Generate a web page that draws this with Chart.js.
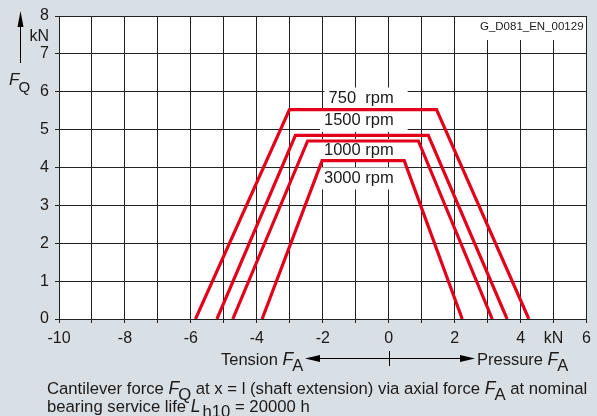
<!DOCTYPE html>
<html>
<head>
<meta charset="utf-8">
<script src="https://cdn.jsdelivr.net/npm/chart.js@4/dist/chart.umd.min.js"></script>
<style>
html,body{margin:0;padding:0;background:#d8dfe5;}
#wrap{width:597px;height:416px;position:relative;}
</style>
</head>
<body>
<div id="wrap"><canvas id="c" width="597" height="416"></canvas></div>
<script>
// ---- data ----
const seriesNames = ['750  rpm', '1500 rpm', '1000 rpm', '3000 rpm'];
const fa750  = [-5.86, -3.01, 1.45, 4.25];
const fq750  = [0, 5.53, 5.53, 0];
const fa1500 = [-5.21, -2.83, 1.20, 3.59];
const fq1500 = [0, 4.85, 4.85, 0];
const fa1000 = [-4.73, -2.46, 0.90, 3.14];
const fq1000 = [0, 4.70, 4.70, 0];
const fa3000 = [-3.84, -2.02, 0.47, 2.23];
const fq3000 = [0, 4.18, 4.18, 0];
const xLabelValues = [-10, -8, -6, -4, -2, 0, 2, 4, 6];
const yLabelValues = [0, 1, 2, 3, 4, 5, 6, 7, 8];
const unitLabel = 'kN';
const docId = 'G_D081_EN_00129';

const FONT = '"Liberation Sans", Arial, sans-serif';
const RED = '#e2001a';
const TXT = '#1a1a1a';

function pts(xs, ys){ return xs.map((x,i)=>({x:x, y:ys[i]})); }
const seriesX = [fa750, fa1500, fa1000, fa3000];
const seriesY = [fq750, fq1500, fq1000, fq3000];

// label anchor (right edge, vertical centre) in data units
const labelAnchors = [[0.15, 5.82],[0.15, 5.23],[0.15, 4.46],[0.15, 3.71]];

function drawRich(ctx, x, y, parts, base){
  let cx = x;
  base = base || 16;
  parts.forEach(p=>{
    ctx.font = (p.i ? 'italic ' : '') + (p.s || base) + 'px ' + FONT;
    ctx.fillText(p.t, cx, y + (p.dy || 0));
    cx += ctx.measureText(p.t).width + (p.gap || 0);
  });
  return cx;
}

const boxesPlugin = {
  id: 'boxes',
  beforeDatasetsDraw(chart){
    const ctx = chart.ctx, xs = chart.scales.x, ys = chart.scales.y;
    ctx.save();
    ctx.font = '16.5px ' + FONT;
    ctx.fillStyle = '#ffffff';
    seriesNames.forEach((n,i)=>{
      const r = xs.getPixelForValue(labelAnchors[i][0]);
      const cy = ys.getPixelForValue(labelAnchors[i][1]);
      const w = ctx.measureText(n).width;
      ctx.fillRect(r - w - 4, cy - 11, w + 18, 22);
    });
    // document id box
    ctx.fillRect(470, chart.chartArea.top + 1, chart.chartArea.right - 471, 23);
    ctx.restore();
  },
  afterDatasetsDraw(chart){
    const ctx = chart.ctx, xs = chart.scales.x, ys = chart.scales.y;
    ctx.save();
    ctx.fillStyle = TXT;
    ctx.font = '16.5px ' + FONT;
    ctx.textAlign = 'right';
    ctx.textBaseline = 'middle';
    seriesNames.forEach((n,i)=>{
      ctx.fillText(n, xs.getPixelForValue(labelAnchors[i][0]), ys.getPixelForValue(labelAnchors[i][1]));
    });
    ctx.font = '11.5px ' + FONT;
    ctx.fillText(docId, chart.chartArea.right - 3, 27);
    ctx.restore();
  },
  afterDraw(chart){
    const ctx = chart.ctx;
    ctx.save();
    ctx.fillStyle = '#000';
    ctx.strokeStyle = '#000';
    ctx.lineWidth = 1;
    // vertical axis arrow
    ctx.beginPath(); ctx.moveTo(20.5, 63); ctx.lineTo(20.5, 22); ctx.stroke();
    ctx.beginPath(); ctx.moveTo(20.5, 11); ctx.lineTo(17.5, 27); ctx.lineTo(23.5, 27); ctx.closePath(); ctx.fill();
    // horizontal arrow
    const x0 = chart.scales.x.getPixelForValue(0);
    ctx.beginPath(); ctx.moveTo(314, 358.5); ctx.lineTo(466, 358.5); ctx.stroke();
    ctx.beginPath(); ctx.moveTo(305, 358.5); ctx.lineTo(320, 355); ctx.lineTo(320, 362); ctx.closePath(); ctx.fill();
    ctx.beginPath(); ctx.moveTo(475, 358.5); ctx.lineTo(460, 355); ctx.lineTo(460, 362); ctx.closePath(); ctx.fill();
    ctx.beginPath(); ctx.moveTo(Math.round(x0)+0.5, 351); ctx.lineTo(Math.round(x0)+0.5, 366); ctx.stroke();

    ctx.fillStyle = TXT;
    ctx.textBaseline = 'alphabetic';
    ctx.textAlign = 'left';
    // F_Q on y axis
    drawRich(ctx, 9, 85, [{t:'F', i:true, s:17, gap:-1},{t:'Q', s:15, dy:7}]);
    // Tension / Pressure
    drawRich(ctx, 221, 365, [{t:'Tension '},{t:'F', i:true, s:17.5, gap:-1},{t:'A', dy:6}], 16.5);
    drawRich(ctx, 477, 365, [{t:'Pressure '},{t:'F', i:true, s:17.5, gap:-1},{t:'A', dy:6}], 16.5);
    // caption
    drawRich(ctx, 47, 394, [
      {t:'Cantilever force '},{t:'F', i:true, s:17.5, gap:-1},{t:'Q', dy:6},
      {t:' at x = l (shaft extension) via axial force '},{t:'F', i:true, s:17.5, gap:-1},{t:'A', dy:6},
      {t:' at nominal'}
    ], 16.7);
    drawRich(ctx, 47, 412, [
      {t:'bearing service life '},{t:'L', i:true, s:17.5, gap:2},{t:'h10', dy:5},
      {t:' = 20000 h'}
    ], 16.7);
    ctx.restore();
  }
};

const plotBg = {
  id: 'plotBg',
  beforeDraw(chart){
    const {ctx, chartArea:a} = chart;
    ctx.save();
    ctx.fillStyle = '#ffffff';
    ctx.fillRect(a.left, a.top, a.right - a.left, a.bottom - a.top);
    ctx.restore();
  }
};

const datasets = seriesNames.map((n,i)=>({
  label: n,
  data: pts(seriesX[i], seriesY[i]),
  showLine: true,
  borderColor: RED,
  backgroundColor: RED,
  borderWidth: 3.2,
  pointRadius: 0,
  borderJoinStyle: 'miter',
  tension: 0,
  fill: false
}));

new Chart(document.getElementById('c'), {
  type: 'scatter',
  data: { datasets },
  plugins: [plotBg, boxesPlugin],
  options: {
    responsive: false,
    animation: false,
    devicePixelRatio: 1,
    layout: { padding: { top: 16, right: 9, left: 0, bottom: 0 } },
    plugins: { legend: { display: false }, tooltip: { enabled: false } },
    scales: {
      x: {
        type: 'linear', min: -10, max: 6,
        afterFit(s){ s.height = 97; },
        ticks: {
          stepSize: 1, autoSkip: false, maxRotation: 0, padding: 6,
          color: TXT, font: { family: FONT, size: 16 },
          callback: v => xLabelValues.includes(v) ? String(v) : (v === 5 ? unitLabel : '')
        },
        grid: { color: '#222', lineWidth: 1, tickLength: 4, drawTicks: true },
        border: { color: '#222', width: 1 }
      },
      y: {
        type: 'linear', min: 0, max: 8,
        afterFit(s){ s.width = 59; },
        afterBuildTicks(s){
          const t = yLabelValues.map(v=>({value:v}));
          t.splice(8, 0, {value: 7.45});
          s.ticks = t;
        },
        ticks: {
          autoSkip: false, padding: 6,
          color: TXT, font: { family: FONT, size: 16 },
          callback: v => v === 7.45 ? unitLabel : String(v)
        },
        grid: {
          color: c => (c.tick && c.tick.value === 7.45) ? 'rgba(0,0,0,0)' : '#222',
          lineWidth: 1, tickLength: 4
        },
        border: { color: '#222', width: 1 }
      }
    }
  }
});
</script>
</body>
</html>
